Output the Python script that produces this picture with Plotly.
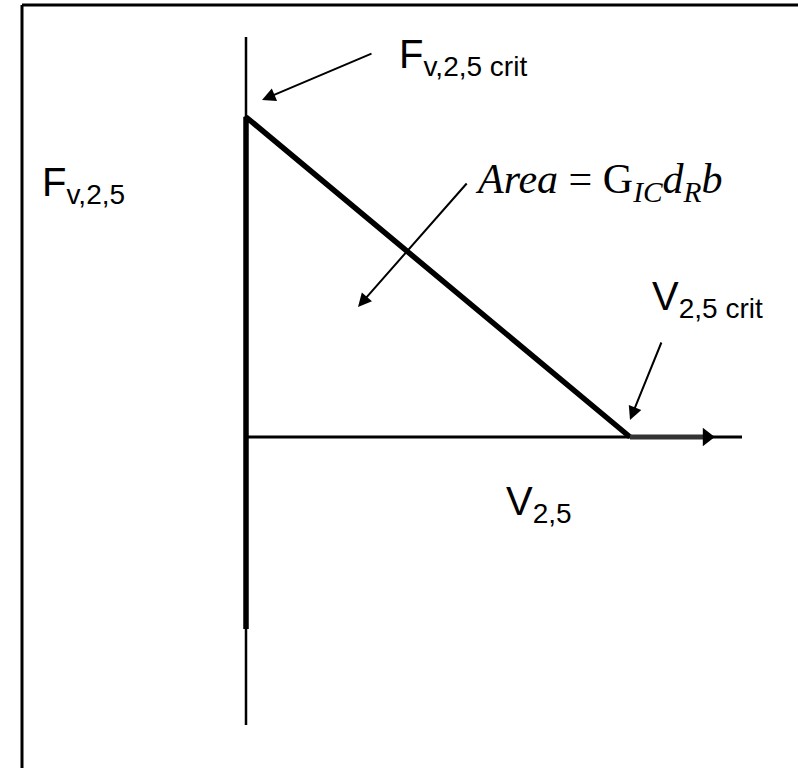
import plotly.graph_objects as go

# Bilinear cohesive law: shear force F_v,2,5 versus sliding V_2,5 (normalised)
v_points = [0.0, 0.0, 1.0, 1.2]      # sliding values along the traction curve
f_points = [-0.6, 1.0, 0.0, 0.0]     # force values along the traction curve
V_CRIT = 1.0
F_CRIT = 1.0

W, H = 798, 768
ORIGIN_PX = (246, 437)     # where the axes cross on the page
SCALE_X, SCALE_Y = 384.0, 320.0

x_range = [-ORIGIN_PX[0] / SCALE_X, (W - ORIGIN_PX[0]) / SCALE_X]
y_range = [(ORIGIN_PX[1] - H) / SCALE_Y, ORIGIN_PX[1] / SCALE_Y]


def px_x(p):
    return (p - ORIGIN_PX[0]) / SCALE_X


def px_y(p):
    return (ORIGIN_PX[1] - p) / SCALE_Y


fig = go.Figure()

# axes of the diagram
fig.add_trace(go.Scatter(x=[0, 0], y=[px_y(37), px_y(725)], mode="lines",
                         line=dict(color="black", width=2.5), hoverinfo="skip"))
fig.add_trace(go.Scatter(x=[0, px_x(742)], y=[0, 0], mode="lines",
                         line=dict(color="black", width=3), hoverinfo="skip"))

# thick vertical and descending branch
fig.add_trace(go.Scatter(x=v_points[:3], y=f_points[:3], mode="lines",
                         line=dict(color="black", width=5.5), hoverinfo="skip"))
# post-critical plateau with arrow tip
fig.add_trace(go.Scatter(x=v_points[2:], y=f_points[2:], mode="lines",
                         line=dict(color="#333333", width=5), hoverinfo="skip"))
fig.add_trace(go.Scatter(x=[v_points[3]], y=[f_points[3]], mode="markers",
                         marker=dict(symbol="triangle-right", size=16, color="black"),
                         hoverinfo="skip"))

arrow_style = dict(showarrow=True, arrowhead=2, arrowwidth=2, arrowsize=1.35,
                   arrowcolor="black", text="", standoff=0)

annotations = [
    # pointer to critical force
    dict(x=0, y=F_CRIT, xref="x", yref="y", ax=111, ay=-47,
         xshift=16, yshift=17, **arrow_style),
    # pointer into the enclosed area
    dict(x=px_x(358), y=px_y(307), xref="x", yref="y",
         ax=110, ay=-125, **arrow_style),
    # pointer to critical sliding
    dict(x=V_CRIT, y=0, xref="x", yref="y", ax=32, ay=-79,
         yshift=17, **arrow_style),
]

label_font = dict(family="Liberation Sans, Arial, sans-serif", size=40, color="black")
math_font = dict(family="Liberation Serif, Times New Roman, serif", size=42, color="black")


def label(text, px, py, font):
    return dict(text=text, x=px / W, y=1 - py / H, xref="paper", yref="paper",
                xanchor="left", yanchor="middle", showarrow=False, font=font)


annotations += [
    label("F<sub>v,2,5 crit</sub>", 397, 57, label_font),
    label("F<sub>v,2,5</sub>", 40, 185, label_font),
    label("V<sub>2,5 crit</sub>", 650, 299, label_font),
    label("V<sub>2,5</sub>", 504, 504, label_font),
    label("<i>Area</i> = G<sub><i>IC</i></sub><i>d</i><sub><i>R</i></sub><i>b</i>",
          473, 182, math_font),
]

# frame line along the top and left edge
shapes = [
    dict(type="line", xref="paper", yref="paper", x0=22 / W, x1=1.01,
         y0=1 - 5 / H, y1=1 - 5 / H, line=dict(color="black", width=3)),
    dict(type="line", xref="paper", yref="paper", x0=22 / W, x1=22 / W,
         y0=1 - 5 / H, y1=-0.01, line=dict(color="black", width=3)),
]

fig.update_layout(
    width=W, height=H, margin=dict(l=0, r=0, t=0, b=0),
    paper_bgcolor="white", plot_bgcolor="white", showlegend=False,
    xaxis=dict(range=x_range, visible=False, fixedrange=True),
    yaxis=dict(range=y_range, visible=False, fixedrange=True),
    annotations=annotations, shapes=shapes,
)

fig.write_html("out.html", config={"displayModeBar": False})
